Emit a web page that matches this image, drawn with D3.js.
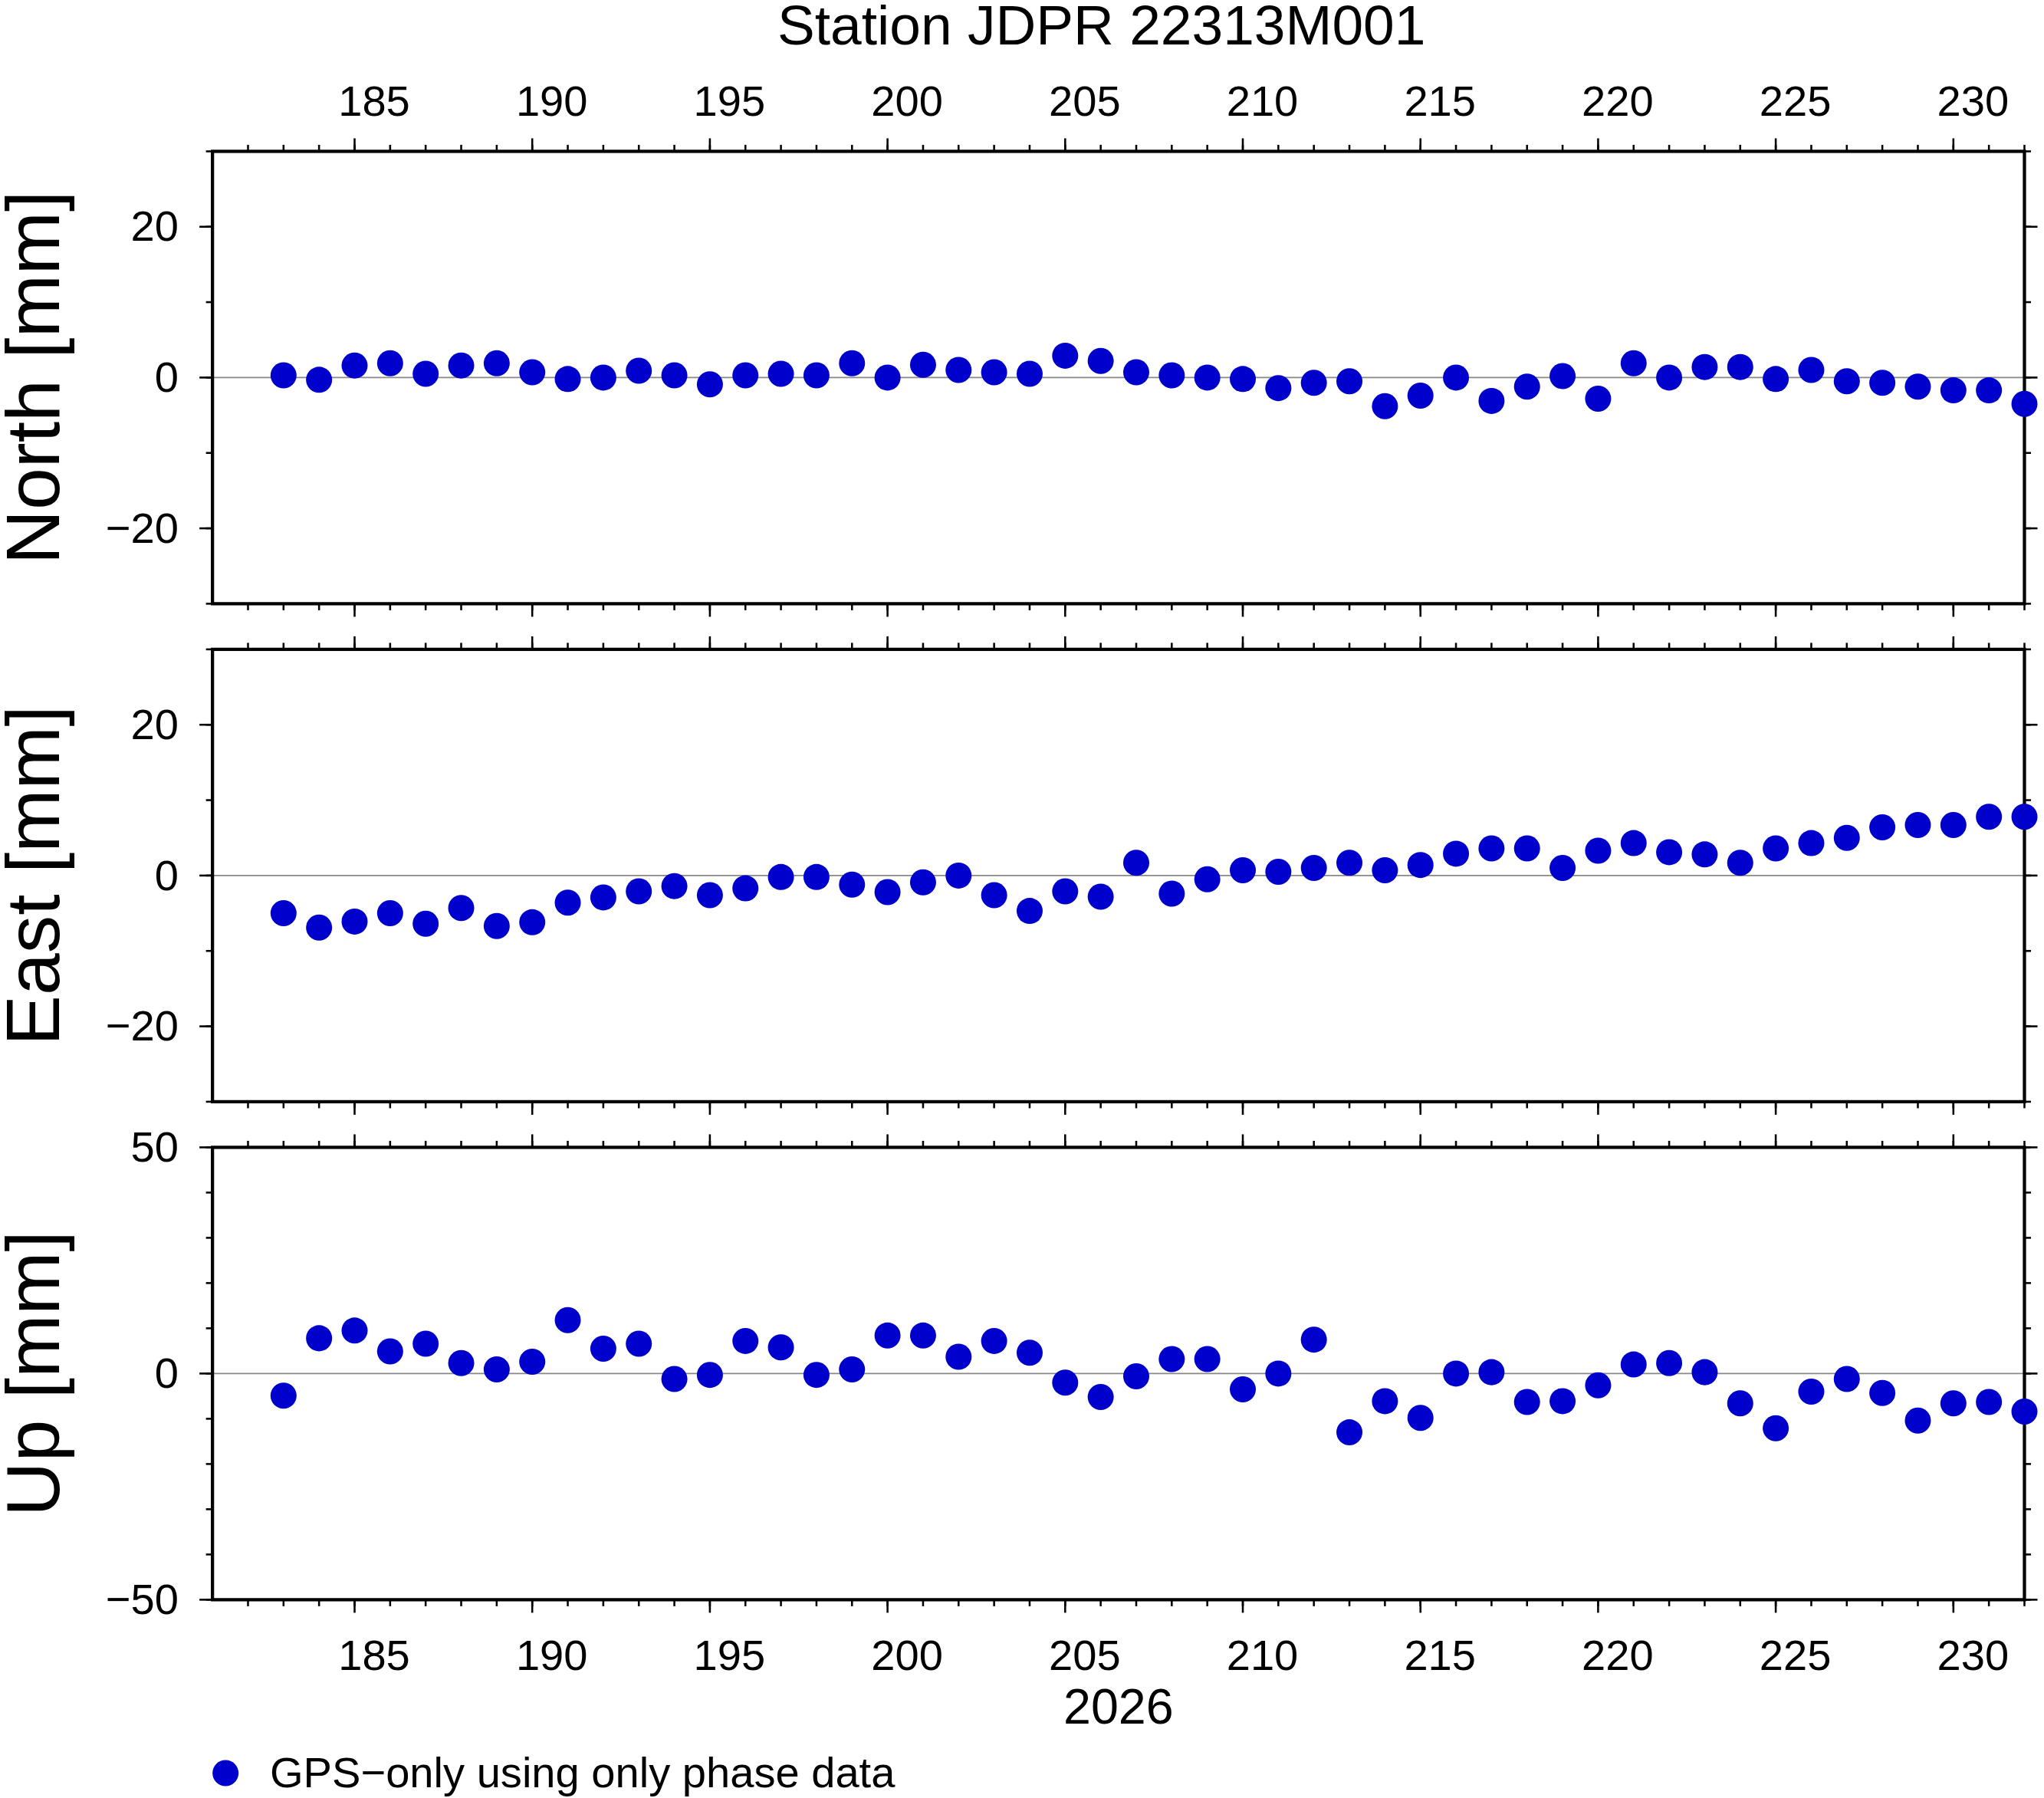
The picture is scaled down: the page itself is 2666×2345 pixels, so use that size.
<!DOCTYPE html>
<html><head><meta charset="utf-8">
<script src="https://cdn.jsdelivr.net/npm/d3@7"></script>
<style>body{margin:0;background:#fff}svg{display:block}text{font-family:"Liberation Sans",Arial,sans-serif}</style>
</head><body><svg id="chart"></svg>
<script>
const days = d3.range(183, 233);
const north = [0.3,-0.3,1.6,1.9,0.5,1.6,1.9,0.7,-0.2,0,0.9,0.3,-0.9,0.3,0.5,0.3,1.9,0,1.7,1.0,0.7,0.5,2.9,2.2,0.7,0.3,0,-0.2,-1.4,-0.7,-0.5,-3.8,-2.4,0,-3.1,-1.2,0.2,-2.8,1.9,0,1.4,1.4,-0.2,1.0,-0.5,-0.7,-1.2,-1.7,-1.7,-3.5];
const east = [-5.0,-6.9,-6.1,-5.0,-6.4,-4.3,-6.7,-6.2,-3.6,-2.9,-2.1,-1.4,-2.6,-1.7,-0.2,-0.2,-1.2,-2.2,-0.9,0,-2.6,-4.7,-2.1,-2.8,1.7,-2.4,-0.5,0.7,0.5,1.0,1.7,0.7,1.4,2.9,3.6,3.6,1.0,3.3,4.3,3.1,2.8,1.7,3.6,4.3,5.0,6.4,6.7,6.7,7.8,7.8];
const up = [-4.9,7.8,9.5,4.9,6.6,2.3,0.9,2.6,11.8,5.5,6.6,-1.2,-0.3,7.2,5.8,-0.3,0.9,8.4,8.4,3.7,7.2,4.6,-2.0,-5.2,-0.6,3.2,3.2,-3.5,0,7.5,-13.0,-6.1,-9.8,0,0.3,-6.3,-6.1,-2.6,2.0,2.3,0.3,-6.6,-12.1,-4.0,-1.2,-4.3,-10.4,-6.6,-6.3,-8.4];
const xMajor = d3.range(185, 231, 5);
const panels = [
  {name:"North [mm]", vals:north, dom:[-30,30], major:[-20,0,20], minor:d3.range(-30,31,10)},
  {name:"East [mm]", vals:east, dom:[-30,30], major:[-20,0,20], minor:d3.range(-30,31,10)},
  {name:"Up [mm]", vals:up, dom:[-50,50], major:[-50,0,50], minor:d3.range(-50,51,10)}
];
const W=1568, H=1379;
const svg = d3.select("#chart").attr("width",2666).attr("height",2345).attr("viewBox",`0 0 ${W} ${H}`);
const L=163, R=1553, tops=[116,498,880], ph=347;
const x = d3.scaleLinear().domain([181,232]).range([L,R]);
const fmt = d => d<0 ? "\u2212"+Math.abs(d) : String(d);
const fs=33;

svg.append("text").attr("x",845).attr("y",34).attr("text-anchor","middle").attr("font-size",43).text("Station JDPR 22313M001");

panels.forEach((p,i)=>{
  const t=tops[i], b=t+ph;
  const y=d3.scaleLinear().domain(p.dom).range([b,t]);
  const g=svg.append("g");
  g.append("line").attr("x1",L).attr("x2",R).attr("y1",y(0)).attr("y2",y(0)).attr("stroke","#888").attr("stroke-width",1);
  const minorX=d3.range(182,233);
  [[t,-1],[b,1]].forEach(([yy,dir])=>{
    minorX.forEach(d=>g.append("line").attr("x1",x(d)).attr("x2",x(d)).attr("y1",yy).attr("y2",yy+dir*5).attr("stroke","#000").attr("stroke-width",1.5));
    xMajor.forEach(d=>g.append("line").attr("x1",x(d)).attr("x2",x(d)).attr("y1",yy).attr("y2",yy+dir*10).attr("stroke","#000").attr("stroke-width",1.5));
  });
  [[L,-1],[R,1]].forEach(([xx,dir])=>{
    p.minor.forEach(v=>g.append("line").attr("x1",xx).attr("x2",xx+dir*5).attr("y1",y(v)).attr("y2",y(v)).attr("stroke","#000").attr("stroke-width",1.5));
    p.major.forEach(v=>g.append("line").attr("x1",xx).attr("x2",xx+dir*10).attr("y1",y(v)).attr("y2",y(v)).attr("stroke","#000").attr("stroke-width",1.5));
  });
  p.major.forEach(v=>g.append("text").attr("x",L-26).attr("y",y(v)+11).attr("text-anchor","end").attr("font-size",fs).text(fmt(v)));
  if(i===0) xMajor.forEach(d=>g.append("text").attr("x",x(d)+15).attr("y",t-27).attr("text-anchor","middle").attr("font-size",fs).text(d));
  if(i===2){
    xMajor.forEach(d=>g.append("text").attr("x",x(d)+15).attr("y",b+54).attr("text-anchor","middle").attr("font-size",fs).text(d));
    g.append("text").attr("x",858).attr("y",b+95).attr("text-anchor","middle").attr("font-size",38).text("2026");
  }
  g.append("rect").attr("x",L).attr("y",t).attr("width",R-L).attr("height",ph).attr("fill","none").attr("stroke","#000").attr("stroke-width",2.5);
  g.append("text").attr("transform",`translate(45,${(t+b)/2}) rotate(-90)`).attr("text-anchor","middle").attr("font-size",58).text(p.name);
  g.selectAll("circle").data(p.vals).enter().append("circle")
    .attr("cx",(v,j)=>x(days[j])).attr("cy",v=>y(v)).attr("r",10).attr("fill","#0000cd");
});
svg.append("circle").attr("cx",173).attr("cy",1360).attr("r",10).attr("fill","#0000cd");
svg.append("text").attr("x",207).attr("y",1371).attr("font-size",33).text("GPS\u2212only using only phase data");
</script></body></html>
